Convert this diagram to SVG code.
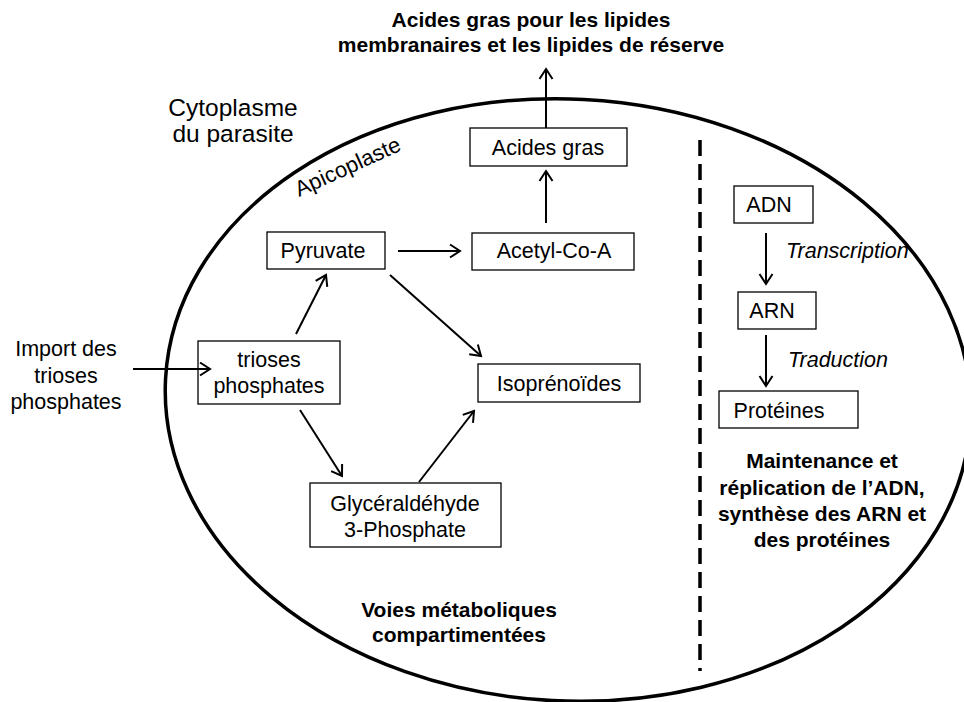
<svg xmlns="http://www.w3.org/2000/svg" width="964" height="702" viewBox="0 0 964 702">
<style>
text{font-family:"Liberation Sans",Arial,sans-serif;fill:#000}
.r{font-size:21.5px}
.b{font-size:21px;font-weight:bold}
.i{font-size:21.5px;font-style:italic}
.c{text-anchor:middle}
.box{fill:#fff;stroke:#000;stroke-width:1.3}
.cn{stroke:#000;stroke-width:2;fill:none;marker-end:url(#ah)}
</style>
<defs>
<marker id="ah" markerUnits="userSpaceOnUse" markerWidth="20" markerHeight="20" viewBox="-12 -10 14 20" refX="0" refY="0" orient="auto">
<path d="M-10,-6.5 L0,0 L-10,6.5" fill="none" stroke="#000" stroke-width="2"/>
</marker>
</defs>
<rect width="964" height="702" fill="#fff"/>
<g id="apicoplaste">
<ellipse cx="568" cy="400" rx="403" ry="301" transform="rotate(3 568 400)" fill="none" stroke="#000" stroke-width="3.5"/>
<text class="r" transform="translate(299 197) rotate(-24.5)" style="font-size:22px">Apicoplaste</text>
</g>
<g id="separator">
<line x1="700" y1="140" x2="700" y2="671" stroke="#000" stroke-width="3.5" stroke-dasharray="16 8"/>
</g>
<g id="title">
<text class="b c" x="531" y="27">Acides gras pour les lipides</text>
<text class="b c" x="531" y="52">membranaires et les lipides de réserve</text>
</g>
<g id="cytoplasme">
<text class="c" style="font-size:24.5px" x="233" y="116">Cytoplasme</text>
<text class="c" style="font-size:24.5px" x="233" y="142">du parasite</text>
</g>
<g id="import">
<text class="r c" x="66" y="356">Import des</text>
<text class="r c" x="66" y="383">trioses</text>
<text class="r c" x="66" y="409">phosphates</text>
</g>
<g id="acides-gras">
<rect class="box" x="470" y="128" width="157" height="38"/>
<text class="r c" x="548" y="155">Acides gras</text>
</g>
<g id="pyruvate">
<rect class="box" x="267" y="232" width="118" height="37"/>
<text class="r c" x="323" y="258">Pyruvate</text>
</g>
<g id="acetyl">
<rect class="box" x="472" y="233" width="162" height="37"/>
<text class="r c" x="554" y="258">Acetyl-Co-A</text>
</g>
<g id="trioses">
<rect class="box" x="198" y="341" width="142" height="63"/>
<text class="r c" x="269" y="367">trioses</text>
<text class="r c" x="269" y="393">phosphates</text>
</g>
<g id="isoprenoides">
<rect class="box" x="478" y="364" width="162" height="38"/>
<text class="r c" x="559" y="391">Isoprénoïdes</text>
</g>
<g id="glyceraldehyde">
<rect class="box" x="310" y="483" width="191" height="64"/>
<text class="r c" x="405" y="511">Glycéraldéhyde</text>
<text class="r c" x="405" y="537">3-Phosphate</text>
</g>
<g id="adn">
<rect class="box" x="734" y="186" width="79" height="37"/>
<text class="r c" x="769" y="212">ADN</text>
</g>
<g id="arn">
<rect class="box" x="738" y="292" width="78" height="37"/>
<text class="r c" x="772" y="318">ARN</text>
</g>
<g id="proteines">
<rect class="box" x="719" y="391" width="139" height="37"/>
<text class="r c" x="779" y="418">Protéines</text>
</g>
<g id="labels">
<text class="i" x="786" y="258">Transcription</text>
<text class="i" x="788" y="367">Traduction</text>
<text class="b c" x="822" y="468">Maintenance et</text>
<text class="b c" x="822" y="495">réplication de l’ADN,</text>
<text class="b c" x="822" y="521">synthèse des ARN et</text>
<text class="b c" x="822" y="547">des protéines</text>
<text class="b c" x="459" y="617">Voies métaboliques</text>
<text class="b c" x="459" y="642">compartimentées</text>
</g>
<g id="connectors">
<line class="cn" x1="546" y1="128" x2="546" y2="69"/>
<line class="cn" x1="546" y1="223" x2="546" y2="171"/>
<line class="cn" x1="398" y1="251" x2="460" y2="251"/>
<line class="cn" x1="296" y1="334" x2="326" y2="275"/>
<line class="cn" x1="390" y1="275" x2="481" y2="356"/>
<line class="cn" x1="133" y1="369" x2="210" y2="369"/>
<line class="cn" x1="300" y1="410" x2="342" y2="476"/>
<line class="cn" x1="419" y1="482" x2="474" y2="411"/>
<line class="cn" x1="766" y1="233" x2="766" y2="284"/>
<line class="cn" x1="766" y1="335" x2="766" y2="386"/>
</g>
</svg>
